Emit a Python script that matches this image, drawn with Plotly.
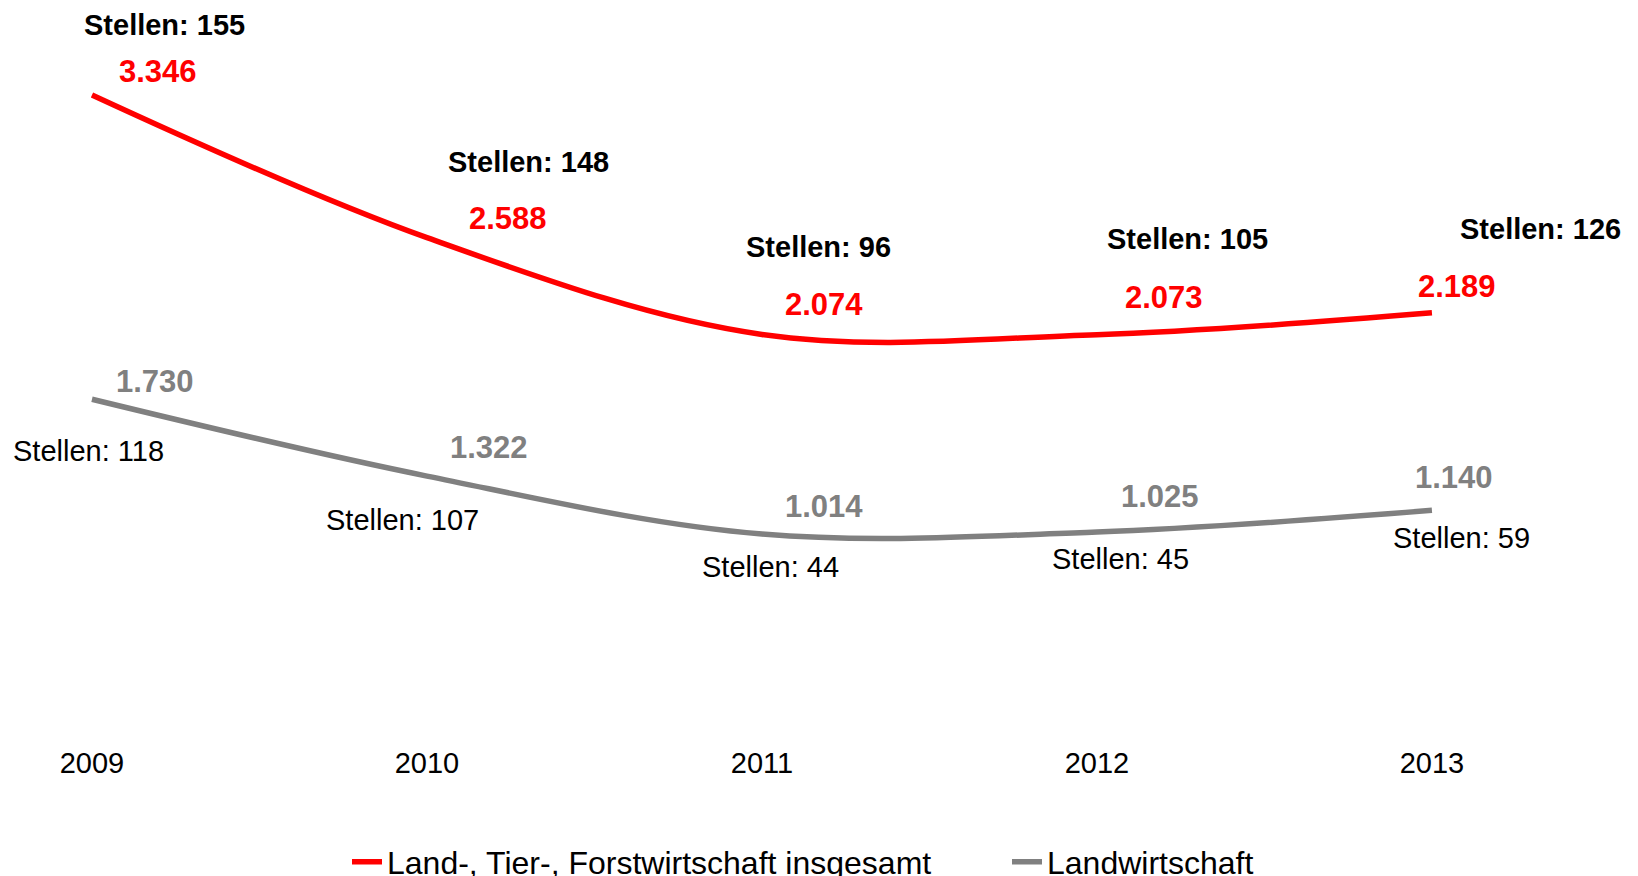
import plotly.graph_objects as go

years = ["2009", "2010", "2011", "2012", "2013"]
total = [3346, 2588, 2074, 2073, 2189]
landw = [1730, 1322, 1014, 1025, 1140]
stellen_total = [155, 148, 96, 105, 126]
stellen_landw = [118, 107, 44, 45, 59]

name_total = "Land-, Tier-, Forstwirtschaft insgesamt"
name_landw = "Landwirtschaft"

# label offsets in pixels (dx, dy up)
off_val_total = [(66, 23), (81, 19), (62, 30), (67, 37), (25, 26)]
off_st_total = [(73, 70), (102, 76), (57, 87), (91, 96), (109, 84)]
off_val_landw = [(63, 18), (62, 29), (62, 28), (63, 36), (22, 33)]
off_st_landw = [(-3, -52), (-24, -44), (9, -33), (24, -27), (30, -28)]

FONT = "Liberation Sans, Arial, sans-serif"
RED = "#FF0000"
GRAY = "#808080"


def de(v):
    return f"{v:,}".replace(",", ".")


idx = list(range(len(years)))

fig = go.Figure()
fig.add_trace(go.Scatter(x=idx, y=total, mode="lines", name=name_total,
                         line=dict(color=RED, width=5.5, shape="spline", smoothing=1)))
fig.add_trace(go.Scatter(x=idx, y=landw, mode="lines", name=name_landw,
                         line=dict(color=GRAY, width=5.5, shape="spline", smoothing=1)))

ann = []
for i in idx:
    ann.append(dict(x=i, y=total[i], text=f"<b>{de(total[i])}</b>",
                    xshift=off_val_total[i][0], yshift=off_val_total[i][1],
                    font=dict(family=FONT, size=31, color=RED)))
    ann.append(dict(x=i, y=total[i], text=f"<b>Stellen: {stellen_total[i]}</b>",
                    xshift=off_st_total[i][0], yshift=off_st_total[i][1],
                    font=dict(family=FONT, size=29, color="#000000")))
    ann.append(dict(x=i, y=landw[i], text=f"<b>{de(landw[i])}</b>",
                    xshift=off_val_landw[i][0], yshift=off_val_landw[i][1],
                    font=dict(family=FONT, size=31, color=GRAY)))
    ann.append(dict(x=i, y=landw[i], text=f"Stellen: {stellen_landw[i]}",
                    xshift=off_st_landw[i][0], yshift=off_st_landw[i][1],
                    font=dict(family=FONT, size=29, color="#000000")))
for a in ann:
    a.update(xref="x", yref="y", showarrow=False, xanchor="center", yanchor="middle")

fig.update_layout(
    width=1638, height=876,
    margin=dict(l=0, r=0, t=0, b=158.6, pad=0, autoexpand=False),
    paper_bgcolor="white", plot_bgcolor="white",
    font=dict(family=FONT, size=29, color="#000000"),
    annotations=ann,
    showlegend=True,
    legend=dict(orientation="h", x=339 / 1638, xanchor="left", y=-0.1528, yanchor="top",
                font=dict(family=FONT, size=32, color="#000000"),
                bgcolor="rgba(0,0,0,0)", entrywidth=615, tracegroupgap=0),
    xaxis=dict(tickmode="array", tickvals=idx, ticktext=years,
               range=[-0.2507, 4.639], showgrid=False, zeroline=False,
               showline=False, ticks="", ticklabelstandoff=18,
               tickfont=dict(family=FONT, size=29, color="#000000")),
    yaxis=dict(range=[0, 3807.9], visible=False, showgrid=False, zeroline=False),
)

fig.write_html("out.html")
